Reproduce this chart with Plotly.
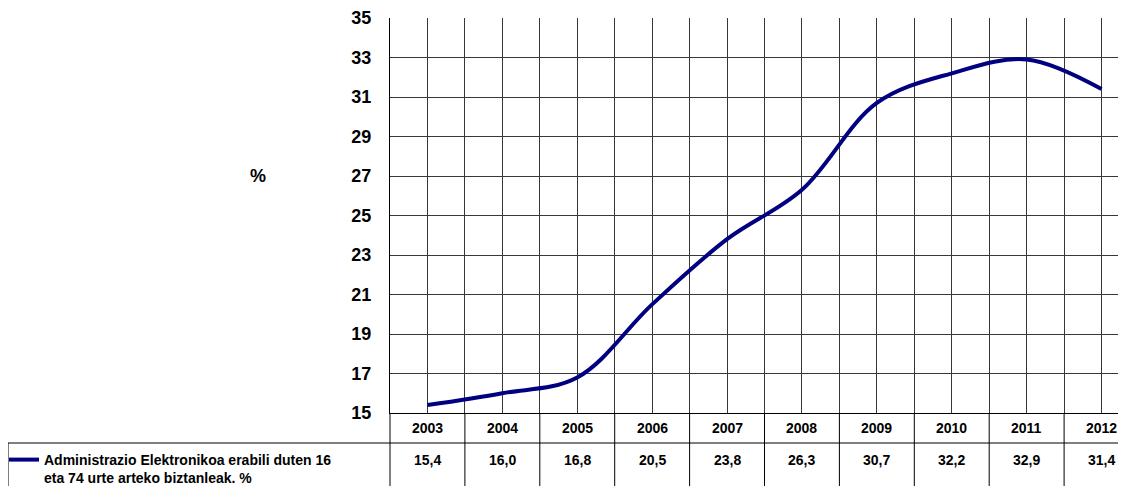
import plotly.graph_objects as go

years = ["2003", "2004", "2005", "2006", "2007", "2008", "2009", "2010", "2011", "2012"]
values = [15.4, 16.0, 16.8, 20.5, 23.8, 26.3, 30.7, 32.2, 32.9, 31.4]
series_name = "Administrazio Elektronikoa erabili duten 16<br>eta 74 urte arteko biztanleak. %"
y_min, y_max, y_step = 15, 35, 2

OFF = 8  # browser body margin
W, H = 1126 - OFF, 486 - OFF
# page-coordinate layout targets
PLOT_L, PLOT_T, PLOT_B = 390, 18, 413
ML, MR, MT = PLOT_L - OFF, 0, PLOT_T - OFF
MB = H - (PLOT_B - OFF)
plot_w = W - ML - MR
plot_h = H - MT - MB
cat_px = 74.9  # pixel width of one category

xs = list(range(len(years)))
x_right = -0.5 + plot_w / cat_px

FONT = "Liberation Sans, Arial, sans-serif"
GRID = "#383838"
NAVY = "#000080"


def py(page_y):
    """page pixel y -> paper y"""
    return (PLOT_B - page_y) / plot_h


def px(page_x):
    """page pixel x -> paper x"""
    return (page_x - PLOT_L) / plot_w


fig = go.Figure()
fig.add_trace(go.Scatter(
    x=xs, y=values, mode="lines",
    name="<b>" + series_name.replace("<br>", "</b><br><b>") + "</b>",
    line=dict(color=NAVY, width=4, shape="spline", smoothing=1.0),
    showlegend=True, hoverinfo="skip",
))

BOT = 500  # below page bottom
shapes = []
# line under the year row (spanning label cell too)
shapes.append(dict(type="line", xref="paper", yref="paper",
                   x0=px(8), x1=1, y0=py(443), y1=py(443),
                   line=dict(color="black", width=1)))
# left border of label cell
shapes.append(dict(type="line", xref="paper", yref="paper",
                   x0=px(8), x1=px(8), y0=py(443), y1=py(BOT),
                   line=dict(color="black", width=1)))
# left border of the table columns
shapes.append(dict(type="line", xref="paper", yref="paper",
                   x0=0, x1=0, y0=0, y1=py(BOT),
                   line=dict(color="black", width=1)))
# column separators
for i in range(len(years) - 1):
    shapes.append(dict(type="line", xref="x", yref="paper",
                       x0=i + 0.5, x1=i + 0.5, y0=0, y1=py(BOT),
                       line=dict(color="black", width=1)))

annotations = []
for i, (yr, v) in enumerate(zip(years, values)):
    annotations.append(dict(x=i, xref="x", y=py(428), yref="paper",
                            text="<b>%s</b>" % yr, showarrow=False,
                            font=dict(family=FONT, size=14, color="black"),
                            xanchor="center", yanchor="middle"))
    annotations.append(dict(x=i, xref="x", y=py(460), yref="paper",
                            text="<b>%s</b>" % ("%.1f" % v).replace(".", ","),
                            showarrow=False,
                            font=dict(family=FONT, size=14, color="black"),
                            xanchor="center", yanchor="middle"))
annotations.append(dict(x=px(258), xref="paper", y=py(176), yref="paper",
                        text="<b>%</b>", showarrow=False,
                        font=dict(family=FONT, size=18, color="black"),
                        xanchor="center", yanchor="middle"))

fig.update_layout(
    width=W, height=H,
    margin=dict(l=ML, r=MR, t=MT, b=MB, autoexpand=False),
    paper_bgcolor="white", plot_bgcolor="white",
    xaxis=dict(range=[-0.5, x_right], tick0=-0.5, dtick=0.5,
               showgrid=True, gridcolor=GRID, gridwidth=1,
               showticklabels=False, ticks="", zeroline=False,
               showline=True, linecolor="black", linewidth=1),
    yaxis=dict(range=[y_min, y_max], tick0=y_min, dtick=y_step,
               showgrid=True, gridcolor=GRID, gridwidth=1,
               zeroline=False, ticks="", ticklabelstandoff=14,
               showline=True, linecolor="black", linewidth=1,
               tickfont=dict(family=FONT, size=18, color="black"),
               tickprefix="<b>", ticksuffix="</b>"),
    shapes=shapes, annotations=annotations,
    showlegend=True,
    legend=dict(x=px(4), xanchor="left", y=py(444), yanchor="top",
                bgcolor="rgba(0,0,0,0)", valign="top",
                font=dict(family=FONT, size=14, color="black"),
                itemwidth=30, tracegroupgap=0),
)

fig.write_html("out.html")
